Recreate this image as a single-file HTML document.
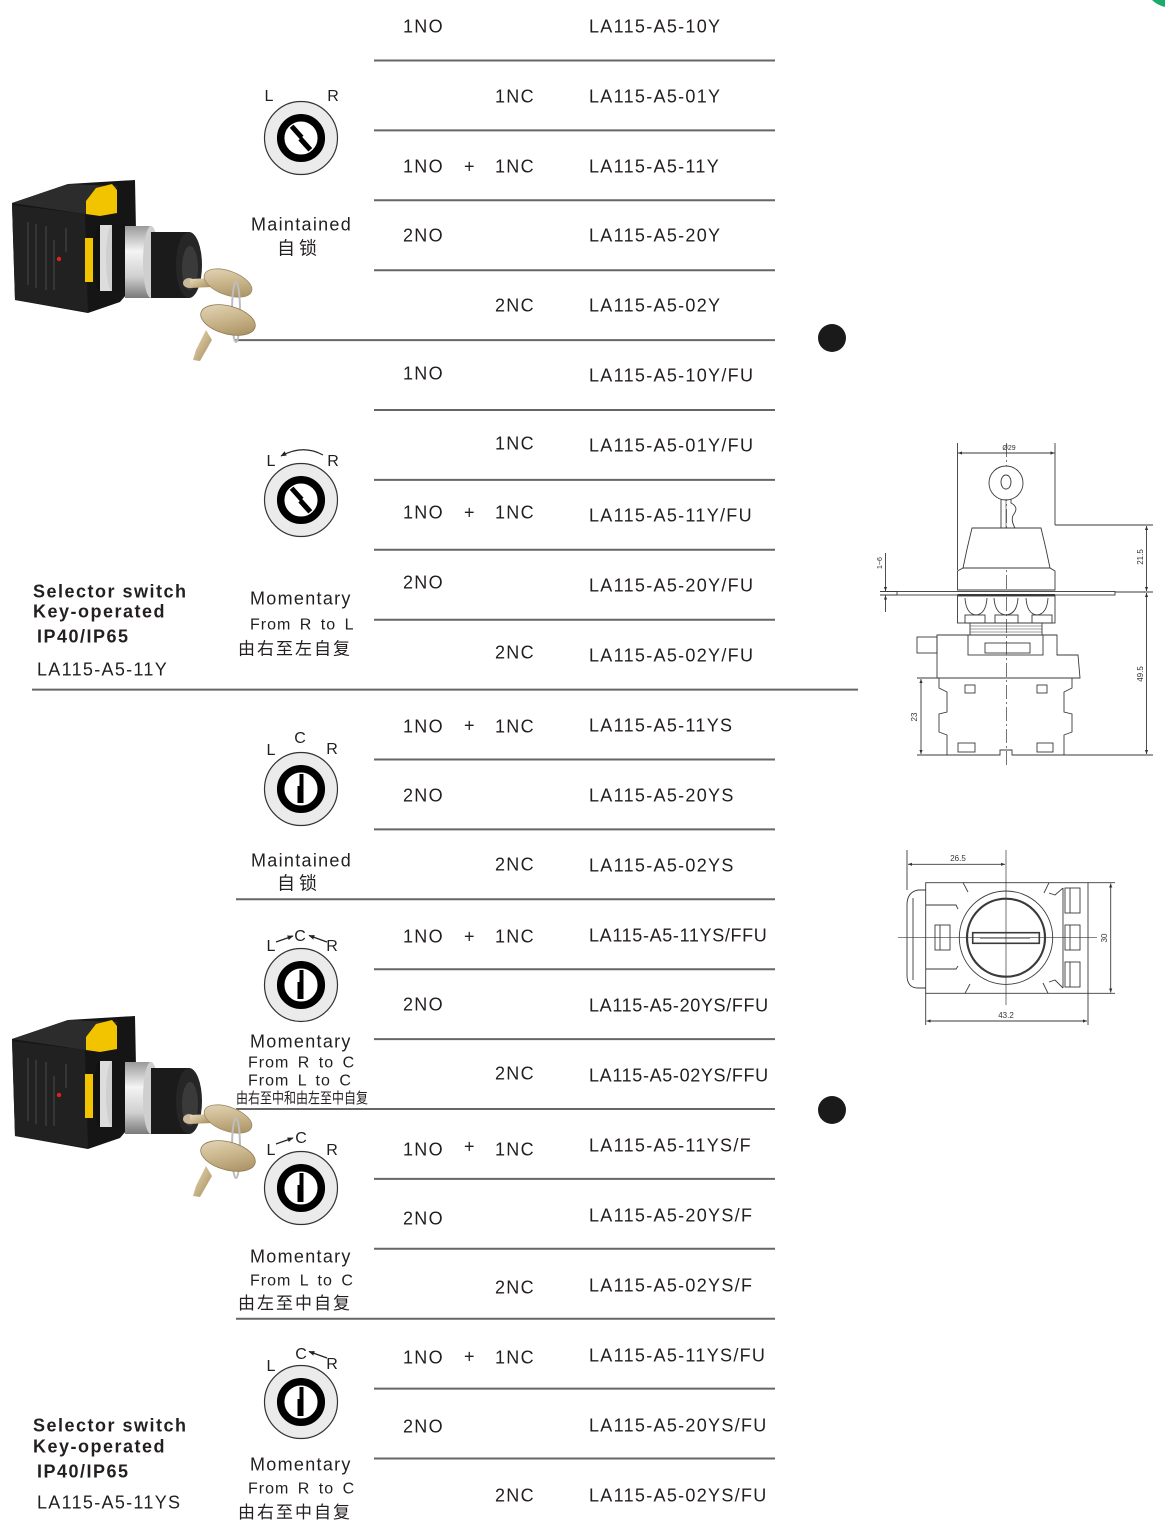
<!DOCTYPE html>
<html><head><meta charset="utf-8">
<style>
html,body{margin:0;padding:0;background:#fff;}
svg{display:block;}
.t{font-family:"Liberation Sans","Noto Sans CJK SC",sans-serif;fill:#231f20;}
.r{font-size:18px;letter-spacing:1.3px;}
.rn{font-size:18px;letter-spacing:0.65px;}
.b{font-size:18px;font-weight:bold;letter-spacing:1.5px;}
.f{font-size:16px;letter-spacing:1px;word-spacing:3px;}
.cj{font-family:"Liberation Sans","Noto Sans CJK SC",sans-serif;fill:#231f20;}
.d{font-family:"Liberation Sans",sans-serif;fill:#333;font-size:8px;}
.sep{stroke:#666;stroke-width:2;}
.dw{fill:none;stroke:#3a3a3a;stroke-width:0.9;}
</style></head>
<body>
<svg width="1165" height="1525" viewBox="0 0 1165 1525" xmlns="http://www.w3.org/2000/svg">
<defs>
  <marker id="ah" viewBox="0 0 10 10" refX="9" refY="5" markerWidth="6" markerHeight="6" orient="auto" markerUnits="userSpaceOnUse">
    <path d="M0,1 L10,5 L0,9 z" fill="#222"/>
  </marker>
  <marker id="da" viewBox="0 0 10 10" refX="10" refY="5" markerWidth="6" markerHeight="4" orient="auto-start-reverse" markerUnits="userSpaceOnUse">
    <path d="M0,1 L10,5 L0,9 z" fill="#333"/>
  </marker>
  <linearGradient id="silver" x1="0" y1="0" x2="0" y2="1">
    <stop offset="0" stop-color="#9a9a9a"/>
    <stop offset="0.35" stop-color="#f4f4f4"/>
    <stop offset="0.7" stop-color="#d0d0d0"/>
    <stop offset="1" stop-color="#7a7a7a"/>
  </linearGradient>
  <linearGradient id="gold" x1="0" y1="0" x2="1" y2="1">
    <stop offset="0" stop-color="#e8dcc0"/>
    <stop offset="0.5" stop-color="#c9b48a"/>
    <stop offset="1" stop-color="#9e8658"/>
  </linearGradient>
  <g id="prod">
    <path d="M12,203 L68,184 L135,180 L137,282 L120,302 L88,313 L15,300 Z" fill="#151515"/>
    <path d="M12,203 L68,184 L118,186 L85,214 Z" fill="#2c2c2c"/>
    <path d="M12,205 L85,214 L88,312 L15,300 Z" fill="#212121"/>
    <g stroke="#555" stroke-width="0.8">
      <line x1="28" y1="222" x2="28" y2="285"/><line x1="36" y1="224" x2="36" y2="288"/>
      <line x1="46" y1="226" x2="46" y2="290"/><line x1="54" y1="240" x2="54" y2="290"/>
      <line x1="66" y1="228" x2="66" y2="252"/>
    </g>
    <path d="M86,201 L96,188 L112,184 L117,190 L117,213 L100,216 L86,214 Z" fill="#f2c400"/>
    <rect x="85" y="238" width="8" height="44" fill="#f2c400"/>
    <circle cx="59" cy="259" r="2.2" fill="#e02020"/>
    <ellipse cx="100" cy="258" rx="6" ry="33" fill="#111"/>
    <rect x="100" y="225" width="12" height="66" fill="#ddd"/>
    <ellipse cx="112" cy="258" rx="6" ry="33" fill="#cfcfcf"/>
    <rect x="112" y="224" width="13" height="68" fill="#141414"/>
    <rect x="125" y="226" width="26" height="72" fill="url(#silver)"/>
    <ellipse cx="151" cy="262" rx="8" ry="36" fill="#cfcfcf"/>
    <rect x="151" y="232" width="38" height="66" fill="#1b1b1b"/>
    <ellipse cx="189" cy="265" rx="13" ry="33" fill="#262626"/>
    <ellipse cx="190" cy="268" rx="8" ry="22" fill="#3a3a3a"/>
    <ellipse cx="189" cy="283" rx="6" ry="5" fill="#c9b89a"/>
    <path d="M190,279 L212,278 L212,287 L190,288 Z" fill="url(#gold)"/>
    <ellipse cx="228" cy="283" rx="25" ry="12" transform="rotate(20 228 283)" fill="url(#gold)" stroke="#9c8d66" stroke-width="0.8"/>
    <ellipse cx="236" cy="312" rx="4" ry="30" fill="none" stroke="#bdbdbd" stroke-width="2"/>
    <path d="M206,330 L196,350 L193,360 L200,361 L212,340 Z" fill="url(#gold)"/>
    <ellipse cx="228" cy="320" rx="28" ry="14" transform="rotate(15 228 320)" fill="url(#gold)" stroke="#8e7a52" stroke-width="0.8"/>
  </g>
  <path id="slotD" d="M-15,-3.4 L0,-3.4 L0,-1.6 L15,-1.6 L15,3.6 L0,3.6 L0,1.6 L-15,1.6 Z" fill="#000"/>
  <path id="slotV" d="M-1.5,-15 L2.5,-15 L2.5,-3 L2.5,-3 L2.5,14 L-3.5,14 L-3.5,-3 L-1.5,-3 Z" fill="#000"/>
</defs>

<!-- green corner -->
<path d="M1152,0 Q1157,5 1165,7 L1165,0 Z" fill="#1bab6a"/>

<!-- separator lines -->
<g class="sep">
  <line x1="374" y1="60.5" x2="775" y2="60.5"/>
  <line x1="374" y1="130.4" x2="775" y2="130.4"/>
  <line x1="374" y1="200.3" x2="775" y2="200.3"/>
  <line x1="374" y1="270.2" x2="775" y2="270.2"/>
  <line x1="235" y1="340.1" x2="775" y2="340.1"/>
  <line x1="374" y1="410" x2="775" y2="410"/>
  <line x1="374" y1="479.9" x2="775" y2="479.9"/>
  <line x1="374" y1="549.8" x2="775" y2="549.8"/>
  <line x1="374" y1="619.7" x2="775" y2="619.7"/>
  <line x1="32" y1="689.6" x2="858" y2="689.6"/>
  <line x1="374" y1="759.5" x2="775" y2="759.5"/>
  <line x1="374" y1="829.4" x2="775" y2="829.4"/>
  <line x1="236" y1="899.3" x2="775" y2="899.3"/>
  <line x1="374" y1="969.2" x2="775" y2="969.2"/>
  <line x1="374" y1="1039.1" x2="775" y2="1039.1"/>
  <line x1="236" y1="1109" x2="775" y2="1109"/>
  <line x1="374" y1="1178.9" x2="775" y2="1178.9"/>
  <line x1="374" y1="1248.8" x2="775" y2="1248.8"/>
  <line x1="236" y1="1318.7" x2="775" y2="1318.7"/>
  <line x1="374" y1="1388.6" x2="775" y2="1388.6"/>
  <line x1="374" y1="1458.5" x2="775" y2="1458.5"/>
</g>

<!-- table text -->
<g class="t r">
  <text x="403" y="32.5">1NO</text><text x="589" y="32.5">LA115-A5-10Y</text>
  <text x="495" y="102.5">1NC</text><text x="589" y="102.5">LA115-A5-01Y</text>
  <text x="403" y="172.5">1NO</text><text x="464" y="172.5">+</text><text x="495" y="172.5">1NC</text><text x="589" y="172.5">LA115-A5-11Y</text>
  <text x="403" y="241.5">2NO</text><text x="589" y="241.5">LA115-A5-20Y</text>
  <text x="495" y="311.5">2NC</text><text x="589" y="311.5">LA115-A5-02Y</text>

  <text x="403" y="379.5">1NO</text><text x="589" y="381.5">LA115-A5-10Y/FU</text>
  <text x="495" y="449.5">1NC</text><text x="589" y="451.5">LA115-A5-01Y/FU</text>
  <text x="403" y="518.5">1NO</text><text x="464" y="518.5">+</text><text x="495" y="518.5">1NC</text><text x="589" y="521.5">LA115-A5-11Y/FU</text>
  <text x="403" y="588.5">2NO</text><text x="589" y="591.5">LA115-A5-20Y/FU</text>
  <text x="495" y="658.5">2NC</text><text x="589" y="661.5">LA115-A5-02Y/FU</text>

  <text x="403" y="732.5">1NO</text><text x="464" y="731.5">+</text><text x="495" y="732.5">1NC</text><text x="589" y="731.5">LA115-A5-11YS</text>
  <text x="403" y="801.5">2NO</text><text x="589" y="801.5">LA115-A5-20YS</text>
  <text x="495" y="870.5">2NC</text><text x="589" y="871.5">LA115-A5-02YS</text>

  <text x="403" y="942.5">1NO</text><text x="464" y="942.5">+</text><text x="495" y="942.5">1NC</text><text class="rn" x="589" y="941.5">LA115-A5-11YS/FFU</text>
  <text x="403" y="1010.5">2NO</text><text class="rn" x="589" y="1011.5">LA115-A5-20YS/FFU</text>
  <text x="495" y="1079.5">2NC</text><text class="rn" x="589" y="1081.5">LA115-A5-02YS/FFU</text>

  <text x="403" y="1155.5">1NO</text><text x="464" y="1152.5">+</text><text x="495" y="1155.5">1NC</text><text x="589" y="1151.5">LA115-A5-11YS/F</text>
  <text x="403" y="1224.5">2NO</text><text x="589" y="1221.5">LA115-A5-20YS/F</text>
  <text x="495" y="1293.5">2NC</text><text x="589" y="1291.5">LA115-A5-02YS/F</text>

  <text x="403" y="1363.5">1NO</text><text x="464" y="1362.5">+</text><text x="495" y="1363.5">1NC</text><text x="589" y="1361.5">LA115-A5-11YS/FU</text>
  <text x="403" y="1432.5">2NO</text><text x="589" y="1431.5">LA115-A5-20YS/FU</text>
  <text x="495" y="1501.5">2NC</text><text x="589" y="1501.5">LA115-A5-02YS/FU</text>
</g>

<!-- black dots -->
<circle cx="832" cy="338" r="14" fill="#1a1a1a"/>
<circle cx="832" cy="1110" r="14" fill="#1a1a1a"/>

<!-- left labels -->
<g class="t">
  <text class="b" x="33" y="597.5">Selector switch</text>
  <text class="b" x="33" y="617.5">Key-operated</text>
  <text class="b" x="37" y="642.5">IP40/IP65</text>
  <text class="r" x="37" y="675.5">LA115-A5-11Y</text>

  <text class="b" x="33" y="1431.5">Selector switch</text>
  <text class="b" x="33" y="1452.5">Key-operated</text>
  <text class="b" x="37" y="1477.5">IP40/IP65</text>
  <text class="r" x="37" y="1508.5">LA115-A5-11YS</text>
</g>

<!-- product photos -->
<use href="#prod"/>
<use href="#prod" transform="translate(0,836)"/>

<!-- dials -->
<g id="dials">
  <!-- dial 1 -->
  <circle cx="301" cy="138" r="36.5" fill="#ebebeb" stroke="#333" stroke-width="1.2"/>
  <circle cx="301" cy="138" r="20.3" fill="#fff" stroke="#000" stroke-width="7.5"/>
  <use href="#slotD" transform="translate(301,138) rotate(48)"/>
  <!-- dial 2 -->
  <circle cx="301" cy="500" r="36.5" fill="#ebebeb" stroke="#333" stroke-width="1.2"/>
  <circle cx="301" cy="500" r="20.3" fill="#fff" stroke="#000" stroke-width="7.5"/>
  <use href="#slotD" transform="translate(301,500) rotate(48)"/>
  <path d="M323,455 Q303,444 281,456" fill="none" stroke="#222" stroke-width="1.2" marker-end="url(#ah)"/>
  <!-- dial 3 -->
  <circle cx="301" cy="789" r="36.5" fill="#ebebeb" stroke="#333" stroke-width="1.2"/>
  <circle cx="301" cy="789" r="20.3" fill="#fff" stroke="#000" stroke-width="7.5"/>
  <use href="#slotV" transform="translate(301,789)"/>
  <!-- dial 4 -->
  <circle cx="301" cy="985" r="36.5" fill="#ebebeb" stroke="#333" stroke-width="1.2"/>
  <circle cx="301" cy="985" r="20.3" fill="#fff" stroke="#000" stroke-width="7.5"/>
  <use href="#slotV" transform="translate(301,985)"/>
  <line x1="276" y1="942" x2="293" y2="936" stroke="#222" stroke-width="1.2" marker-end="url(#ah)"/>
  <line x1="327" y1="942" x2="309" y2="935.5" stroke="#222" stroke-width="1.2" marker-end="url(#ah)"/>
  <!-- dial 5 -->
  <circle cx="301" cy="1188" r="36.5" fill="#ebebeb" stroke="#333" stroke-width="1.2"/>
  <circle cx="301" cy="1188" r="20.3" fill="#fff" stroke="#000" stroke-width="7.5"/>
  <use href="#slotV" transform="translate(301,1188)"/>
  <line x1="276" y1="1144" x2="293" y2="1138" stroke="#222" stroke-width="1.2" marker-end="url(#ah)"/>
  <!-- dial 6 -->
  <circle cx="301" cy="1402" r="36.5" fill="#ebebeb" stroke="#333" stroke-width="1.2"/>
  <circle cx="301" cy="1402" r="20.3" fill="#fff" stroke="#000" stroke-width="7.5"/>
  <use href="#slotV" transform="translate(301,1402)"/>
  <line x1="327" y1="1358" x2="309" y2="1351.5" stroke="#222" stroke-width="1.2" marker-end="url(#ah)"/>
</g>

<!-- dial letters -->
<g class="t" style="font-size:16px" text-anchor="middle">
  <text x="269" y="101">L</text><text x="333" y="101">R</text>
  <text x="271" y="466">L</text><text x="333" y="466">R</text>
  <text x="271" y="755">L</text><text x="300" y="743">C</text><text x="332" y="754">R</text>
  <text x="271" y="951">L</text><text x="300" y="941">C</text><text x="332" y="951">R</text>
  <text x="271" y="1155">L</text><text x="301" y="1143">C</text><text x="332" y="1155">R</text>
  <text x="271" y="1371">L</text><text x="301" y="1359">C</text><text x="332" y="1369">R</text>
</g>

<!-- dial descriptions -->
<g class="t">
  <text class="r" x="251" y="230.5">Maintained</text>
  <text class="cj" x="277" y="254.5" style="font-size:18px;letter-spacing:4px">自锁</text>

  <text class="r" x="250" y="604.5">Momentary</text>
  <text class="f" x="250" y="629.5">From R to L</text>
  <text class="cj" x="238" y="654.5" style="font-size:17px;letter-spacing:2px">由右至左自复</text>

  <text class="r" x="251" y="866.5">Maintained</text>
  <text class="cj" x="277" y="889.5" style="font-size:18px;letter-spacing:4px">自锁</text>

  <text class="r" x="250" y="1047.5">Momentary</text>
  <text class="f" x="248" y="1067.5">From R to C</text>
  <text class="f" x="248" y="1085.5">From L to C</text>
  <text class="cj" transform="translate(236,1103) scale(0.8,1)" x="0" y="0" style="font-size:15px">由右至中和由左至中自复</text>

  <text class="r" x="250" y="1262.5">Momentary</text>
  <text class="f" x="250" y="1285.5">From L to C</text>
  <text class="cj" x="238" y="1309" style="font-size:17px;letter-spacing:2px">由左至中自复</text>

  <text class="r" x="250" y="1470.5">Momentary</text>
  <text class="f" x="248" y="1493.5">From R to C</text>
  <text class="cj" x="238" y="1518" style="font-size:17px;letter-spacing:2px">由右至中自复</text>
</g>

<!-- technical drawing 1 -->
<g class="dw">
  <line x1="1006.5" y1="443" x2="1006.5" y2="765" stroke-dasharray="14 3 2 3" stroke-width="0.7"/>
  <line x1="957.5" y1="443" x2="957.5" y2="570"/>
  <line x1="1055" y1="443" x2="1055" y2="525"/>
  <line x1="958" y1="453" x2="1054.5" y2="453" marker-start="url(#da)" marker-end="url(#da)"/>
  <circle cx="1006" cy="483" r="17" fill="#fff"/>
  <ellipse cx="1006" cy="482" rx="5" ry="7"/>
  <path d="M1001,499 L1001,528 M1011,499 L1011,503 Q1019,507 1014,514 Q1010,519 1015,528" />
  <line x1="1006" y1="499" x2="1006" y2="528" stroke-width="0.6"/>
  <path d="M972,528 L1041,528 Q1046,548 1050,568 L963,568 Q967,548 972,528 Z" fill="#fff"/>
  <path d="M963,568 L1050,568 L1055,571 L1055,590 L957.5,590 L957.5,571 Z"/>
  <rect x="897" y="591.5" width="218" height="3.5" fill="#fff"/>
  <line x1="957.5" y1="595" x2="1055" y2="595" stroke-width="2"/>
  <rect x="957.5" y="596" width="97.5" height="27"/>
  <path d="M965,598 Q966,614 976,615 Q986,614 987,598 M994,598 Q995,614 1006,615 Q1017,614 1018,598 M1026,598 Q1027,614 1037,615 Q1047,614 1048,598"/>
  <rect x="965" y="615" width="20" height="8"/>
  <rect x="995" y="615" width="23" height="8"/>
  <rect x="1032" y="615" width="20" height="8"/>
  <rect x="970" y="623" width="72" height="12"/>
  <path d="M970,626 L1042,626 M970,629 L1042,629 M970,632 L1042,632" stroke-width="0.6"/>
  <path d="M937,635 L1057,635 L1057,655 L1078,655 L1080,678 L937,678 Z"/>
  <rect x="917" y="637" width="20" height="16"/>
  <rect x="968" y="635" width="75" height="20"/>
  <rect x="985" y="643" width="45" height="10"/>
  <path d="M939,678 L939,688 L947,692 L947,712 L939,714 L939,732 L947,735 L947,755 L1000,755 L1000,750 L1012,750 L1012,755 L1064,755 L1064,735 L1072,732 L1072,714 L1064,712 L1064,692 L1072,688 L1072,678 Z"/>
  <rect x="965" y="685" width="10" height="8"/>
  <rect x="1037" y="685" width="10" height="8"/>
  <rect x="958" y="743" width="17" height="9"/>
  <rect x="1037" y="743" width="16" height="9"/>
  <!-- dims -->
  <line x1="1055" y1="525" x2="1153" y2="525"/>
  <line x1="1115" y1="592" x2="1153" y2="592"/>
  <line x1="1064" y1="755" x2="1153" y2="755"/>
  <line x1="1146.5" y1="526" x2="1146.5" y2="591" marker-start="url(#da)" marker-end="url(#da)"/>
  <line x1="1146.5" y1="593" x2="1146.5" y2="754" marker-start="url(#da)" marker-end="url(#da)"/>
  <line x1="917" y1="678" x2="939" y2="678"/>
  <line x1="917" y1="755" x2="947" y2="755"/>
  <line x1="921" y1="679" x2="921" y2="754" marker-start="url(#da)" marker-end="url(#da)"/>
  <line x1="880" y1="591.5" x2="897" y2="591.5"/>
  <line x1="880" y1="595" x2="897" y2="595"/>
  <line x1="885.5" y1="553" x2="885.5" y2="591" marker-end="url(#da)"/>
  <line x1="885.5" y1="612" x2="885.5" y2="595.5" marker-end="url(#da)"/>
</g>
<g class="d">
  <text x="1009" y="450" text-anchor="middle" style="font-size:7px">Ø29</text>
  <text transform="translate(1143,557) rotate(-90)" text-anchor="middle">21.5</text>
  <text transform="translate(1143,674) rotate(-90)" text-anchor="middle">49.5</text>
  <text transform="translate(917,717) rotate(-90)" text-anchor="middle">23</text>
  <text transform="translate(882,563) rotate(-90)" text-anchor="middle" style="font-size:7px">1~6</text>
</g>

<!-- technical drawing 2 -->
<g class="dw">
  <rect x="925.7" y="882.7" width="162.3" height="110.6"/>
  <path d="M926,890 L918,890 Q907,892 907,905 L907,975 Q907,988 918,988 L926,988"/>
  <line x1="913" y1="898" x2="913" y2="980"/>
  <path d="M926,905 L956,905 L958,909 M926,969 L956,969 L958,966"/>
  <path d="M968,892 L963,882.7 M1044,893 L1049,882.7 M970,984 L965,993.3 M1043,983 L1048,993.3"/>
  <path d="M1049,893 L1055,895 L1063,888 M1049,982 L1055,980 L1063,988"/>
  <line x1="1063" y1="888" x2="1063" y2="988"/>
  <circle cx="1006" cy="937.7" r="46.7" fill="#fff"/>
  <circle cx="1006" cy="937.7" r="39" stroke-width="2.2"/>
  <rect x="972.7" y="932.7" width="66.6" height="10.6" stroke-width="1.6"/>
  <line x1="980" y1="938.5" x2="1030" y2="938.5" stroke-width="0.6"/>
  <rect x="1065" y="888" width="15" height="25"/><line x1="1070" y1="888" x2="1070" y2="913"/>
  <rect x="1065" y="925" width="15" height="25"/><line x1="1070" y1="925" x2="1070" y2="950"/>
  <rect x="1065" y="962" width="15" height="25"/><line x1="1070" y1="962" x2="1070" y2="987"/>
  <rect x="935" y="925" width="15" height="25"/><line x1="940" y1="925" x2="940" y2="950"/>
  <line x1="898" y1="937.7" x2="1097" y2="937.7" stroke-width="0.7"/>
  <line x1="1006" y1="850" x2="1006" y2="1005" stroke-width="0.7"/>
  <line x1="907" y1="850" x2="907" y2="890"/>
  <line x1="908" y1="864.3" x2="1005" y2="864.3" marker-start="url(#da)" marker-end="url(#da)"/>
  <line x1="925.7" y1="993" x2="925.7" y2="1025"/>
  <line x1="1088" y1="993" x2="1088" y2="1025"/>
  <line x1="926.5" y1="1021" x2="1087" y2="1021" marker-start="url(#da)" marker-end="url(#da)"/>
  <line x1="1088" y1="882.7" x2="1115" y2="882.7"/>
  <line x1="1088" y1="993.3" x2="1115" y2="993.3"/>
  <line x1="1110.7" y1="883.5" x2="1110.7" y2="992.5" marker-start="url(#da)" marker-end="url(#da)"/>
</g>
<g class="d">
  <text x="958" y="861" text-anchor="middle">26.5</text>
  <text x="1006" y="1018" text-anchor="middle">43.2</text>
  <text transform="translate(1107,938) rotate(-90)" text-anchor="middle">30</text>
</g>
</svg>
</body></html>
